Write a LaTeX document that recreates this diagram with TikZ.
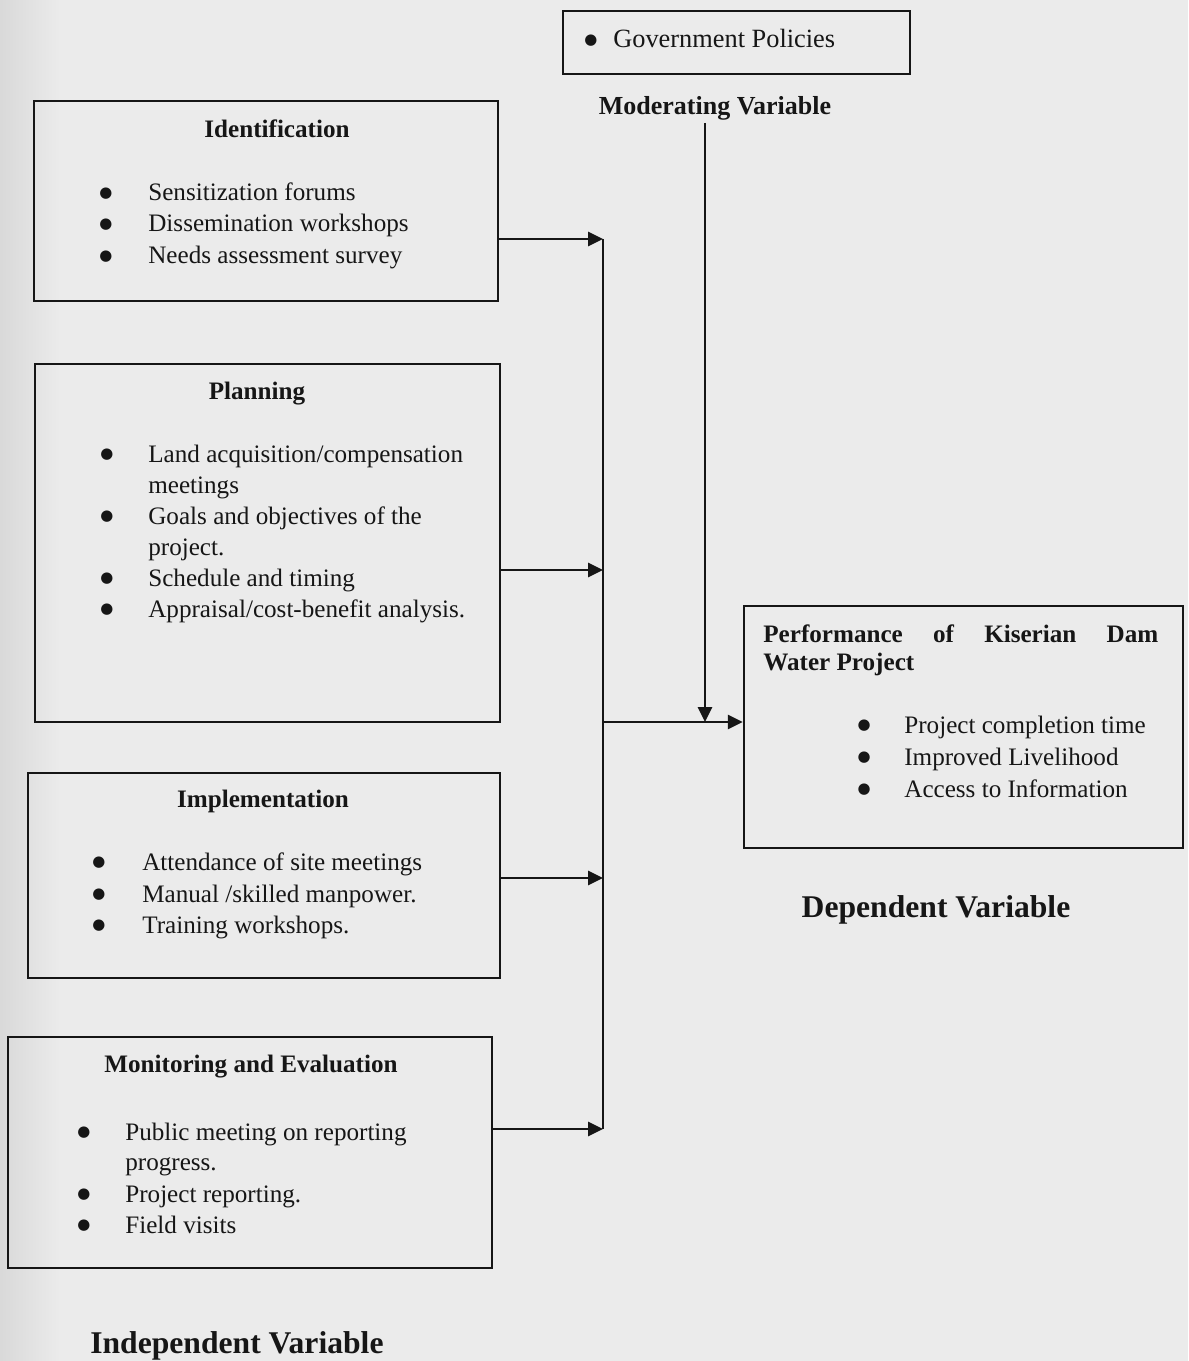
\documentclass[tikz,border=0pt]{standalone}
\usepackage{fontspec}
\setmainfont{Liberation Serif}
\newfontfamily\dotfont{DejaVu Sans}
\usetikzlibrary{arrows.meta,positioning,fit,calc}
\definecolor{paper}{RGB}{235,235,235}
\definecolor{ink}{RGB}{22,22,22}

\begin{document}
\begin{tikzpicture}[x=0.02cm, y=-0.02cm,
  box/.style={draw=ink, line width=1.3pt, inner sep=0pt},
  item/.style={anchor=base west, inner sep=0pt, text=ink, font=\fontsize{14.3}{17}\selectfont},
  dot/.style={anchor=base, inner sep=0pt, yshift=2.2pt, text=ink, font=\dotfont\fontsize{8.5}{10}\selectfont},
  head/.style={anchor=base, inner sep=0pt, text=ink, font=\bfseries\fontsize{14.3}{17}\selectfont},
  varlbl/.style={anchor=base, inner sep=0pt, text=ink, font=\bfseries\fontsize{18}{21}\selectfont},
  link/.style={draw=ink, line width=1.6pt},
  arr/.style={link, -{Triangle[length=0.3cm, width=0.28cm]}}]
% scanned page
\fill[paper] (0,0) rectangle (1188,1361);
\shade[left color=gray!30, right color=paper] (0,0) rectangle (60,1361);
\useasboundingbox (0,0) rectangle (1188,1361);

% moderating variable
\node[box, fit={(563,11) (910,74)}] (gov) {};
\node[dot] (govb) at (591,48) {●};
\node[item, font=\fontsize{15}{18}\selectfont] (govt) at (613,48) {Government Policies};
\node[head, font=\bfseries\fontsize{14.8}{18}\selectfont] (modlbl) at (715,115) {Moderating Variable};

% identification
\node[box, fit={(34,101) (498,301)}] (ident) {};
\node[head] (identh) at (277,138) {Identification};
\foreach \yy/\txt [count=\i] in {201/Sensitization forums, 232/Dissemination workshops, 264/Needs assessment survey}{
  \node[dot] (identb\i) at (106,\yy) {●};
  \node[item] (identi\i) at (148,\yy) {\txt};
}

% planning
\node[box, fit={(35,364) (500,722)}] (plan) {};
\node[head] (planh) at (257,399) {Planning};
\foreach \yy [count=\i] in {462,524,586,617}
  \node[dot] (planb\i) at (107,\yy) {●};
\foreach \yy/\txt [count=\i] in {462/{Land acquisition/compensation}, 493/meetings, 524/Goals and objectives of the, 555/project., 586/Schedule and timing, 617/{Appraisal/cost-benefit analysis.}}
  \node[item] (plani\i) at (148,\yy) {\txt};

% implementation
\node[box, fit={(28,773) (500,978)}] (impl) {};
\node[head] (implh) at (263,807) {Implementation};
\foreach \yy/\txt [count=\i] in {870/Attendance of site meetings, 902/{Manual /skilled manpower.}, 933/Training workshops.}{
  \node[dot] (implb\i) at (99,\yy) {●};
  \node[item] (impli\i) at (142,\yy) {\txt};
}

% monitoring and evaluation
\node[box, fit={(8,1037) (492,1268)}] (mne) {};
\node[head] (mneh) at (251,1072) {Monitoring and Evaluation};
\foreach \yy [count=\i] in {1140,1202,1233}
  \node[dot] (mneb\i) at (84,\yy) {●};
\foreach \yy/\txt [count=\i] in {1140/Public meeting on reporting, 1170/progress., 1202/Project reporting., 1233/Field visits}
  \node[item] (mnei\i) at (125,\yy) {\txt};

% dependent variable
\node[box, fit={(744,606) (1183,848)}] (perf) {};
\node[item, font=\bfseries\fontsize{14.3}{17}\selectfont] (perfh1) at (763,642) {\makebox[7.9cm][s]{Performance of Kiserian Dam}};
\node[item, font=\bfseries\fontsize{14.3}{17}\selectfont] (perfh2) at (763,670) {Water Project};
\foreach \yy/\txt [count=\i] in {733/Project completion time, 765/Improved Livelihood, 797/Access to Information}{
  \node[dot] (perfb\i) at (864,\yy) {●};
  \node[item] (perfi\i) at (904,\yy) {\txt};
}

\node[varlbl] (deplbl) at (936,917) {Dependent Variable};
\node[varlbl, anchor=base west] (indeplbl) at (90,1353) {Independent Variable};

% bus and arrows
\coordinate (bustop) at (603,239);
\coordinate (jplan) at (603,570);
\coordinate (busout) at (603,722);
\coordinate (jimpl) at (603,878);
\coordinate (busbot) at (603,1129);
\coordinate (modtop) at (705,123);
\draw[link] (bustop) -- (busbot);
\draw[arr] (ident.east |- bustop) -- (bustop);
\draw[arr] (plan.east |- jplan) -- (jplan);
\draw[arr] (impl.east |- jimpl) -- (jimpl);
\draw[arr] (mne.east |- busbot) -- (busbot);
\draw[arr] (busout) -- (perf.west |- busout);
\draw[arr] (modtop) -- (modtop |- busout);
\end{tikzpicture}
\end{document}
